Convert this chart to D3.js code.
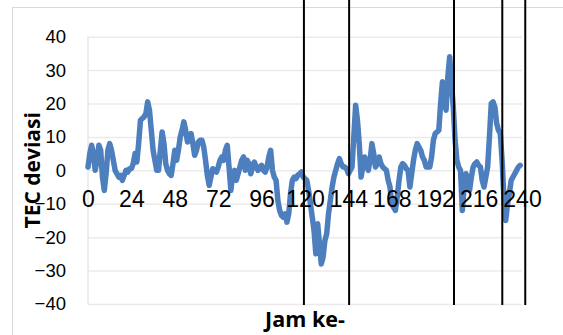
<!DOCTYPE html>
<html>
<head>
<meta charset="utf-8">
<script src="https://cdn.jsdelivr.net/npm/d3@7/dist/d3.min.js"></script>
<style>
  html, body { margin: 0; padding: 0; background: #fff; }
  svg { display: block; font-family: "Open Sans", "Noto Sans", sans-serif; }
</style>
</head>
<body>
<svg id="chart" width="563" height="335"></svg>
<script>
// Hourly TEC deviation, hours 0..239
const tecValues = [
  1, 5, 7.5, 5, 0, 3, 7.5, 6, -2, -6,
  -1, 6, 8, 6, 3, 0, -1, -2, -1.5, -3,
  -1.5, 0, -0.5, 0.5, 0.5, 2, 5, 2.5, 8, 15,
  15.5, 16, 17, 20.5, 18, 12, 6, 3, 0, 0,
  6, 11.5, 8, 2, 0, -1, -1.5, 2, 6, 3,
  6, 10, 12, 14.5, 12, 8.5, 9, 11, 8, 4.5,
  6, 8.5, 9, 9, 7, 3, -1.5, -4.5, -2, 0.5,
  0, -0.5, 1, 3, 4, 3, 6, 7.5, 1, -6,
  -1, 0, -3, -1, 1, 3, 4, 0, 3, 2,
  -1, 1, 2.5, 1, 0, 1, 1.5, 0, -0.5, 1,
  4, 6, 0, -2, -3, -9, -12, -13.5, -14, -13,
  -15.5, -13, -7, -3, -2, -2.5, -1.5, -1, -0.5, -2,
  -2.5, -3, -6, -10, -14, -18, -25, -16, -22, -28,
  -26, -21, -19, -13, -9, -5, -2, 0, 2, 3.5,
  2, 1, 1, 0.5, -1, 0, 1, 10, 19.5, 15,
  8, -2, 1, 4, 2, 0, 3, 8, 5, 1,
  2, 4, 2, 1, 0.5, 0, -3, -5, -10, -11,
  -12, -8, -3, 1, 2, 1.5, 0.5, 0, -5, -1,
  3, 6, 8, 7, 6, 4, 3, 1, 1, 1,
  4, 9, 11, 11.5, 12, 20, 26.5, 22, 18, 28,
  34, 26, 19, 9, 3, 1, 0, -12, -5, -1,
  -3, -6, -2, 1, 2, 2.5, 1.5, 1, -3, -5,
  -2, 1, 10, 20, 20.5, 19, 14, 12, 11, 3,
  -8, -15, -10, -7, -3, -2, -1, 0, 1, 1.5
];
const hours = tecValues.map((_, i) => i);

// Axis ticks
const xTicks = [0, 24, 48, 72, 96, 120, 144, 168, 192, 216, 240];
const yTicks = [-40, -30, -20, -10, 0, 10, 20, 30, 40];

// Event markers (hour)
const markerHours = [119.4, 144.4, 202.4, 229.1, 241.8];

const xTitle = "Jam ke-";
const yTitle = "TEC deviasi";

const svg = d3.select("#chart");

const x = d3.scaleLinear().domain([0, 240]).range([88, 522]);
const y = d3.scaleLinear().domain([-40, 40]).range([304, 36.7]);

// chart area border
svg.append("rect")
  .attr("x", 12.5).attr("y", 7.5)
  .attr("width", 600).attr("height", 400)
  .attr("fill", "#fff")
  .attr("stroke", "#d9d9d9")
  .attr("stroke-width", 1);

// horizontal gridlines + value labels
const yAxis = d3.axisLeft(y)
  .tickValues(yTicks)
  .tickSize(-(x.range()[1] - x.range()[0]))
  .tickPadding(22)
  .tickFormat(d3.format("d"));

const gy = svg.append("g")
  .attr("transform", `translate(${x.range()[0]},0)`)
  .call(yAxis);
gy.select(".domain").remove();
gy.selectAll(".tick line")
  .attr("stroke", "#ebebeb")
  .attr("stroke-width", 1.5);
gy.selectAll(".tick text")
  .attr("fill", "#000")
  .style("font-size", "18.5px");

// left axis line
svg.append("line")
  .attr("x1", x(0)).attr("x2", x(0))
  .attr("y1", y(40)).attr("y2", y(-40))
  .attr("stroke", "#e6e6e6")
  .attr("stroke-width", 1.5);

// data line
const line = d3.line()
  .x((d, i) => x(hours[i]))
  .y(d => y(d))
  .curve(d3.curveLinear);

svg.append("path")
  .datum(tecValues)
  .attr("fill", "none")
  .attr("stroke", "#4d7ebd")
  .attr("stroke-width", 5.5)
  .attr("stroke-linejoin", "round")
  .attr("stroke-linecap", "round")
  .attr("d", line);

// hour labels along the zero line, drawn over the series
const xAxis = d3.axisBottom(x)
  .tickValues(xTicks)
  .tickSize(0)
  .tickPadding(0)
  .tickFormat(d3.format("d"));

const gx = svg.append("g")
  .attr("transform", `translate(0,${y(0) + 20})`)
  .call(xAxis);
gx.select(".domain").remove();
gx.selectAll(".tick text")
  .attr("fill", "#000")
  .attr("dy", "0.71em")
  .attr("y", 0)
  .style("font-size", "23px");

// vertical event markers
svg.append("g")
  .selectAll("line")
  .data(markerHours)
  .join("line")
  .attr("x1", d => x(d)).attr("x2", d => x(d))
  .attr("y1", 0).attr("y2", y(-40) + 1)
  .attr("stroke", "#000")
  .attr("stroke-width", 2);

// axis titles
svg.append("text")
  .attr("x", (x.range()[0] + x.range()[1]) / 2)
  .attr("y", 327)
  .attr("text-anchor", "middle")
  .style("font-size", "21.5px")
  .style("font-weight", "bold")
  .text(xTitle);

svg.append("text")
  .attr("transform", `translate(40,${y(0)}) rotate(-90)`)
  .attr("text-anchor", "middle")
  .style("font-size", "21px")
  .style("font-weight", "bold")
  .text(yTitle);
</script>
</body>
</html>
